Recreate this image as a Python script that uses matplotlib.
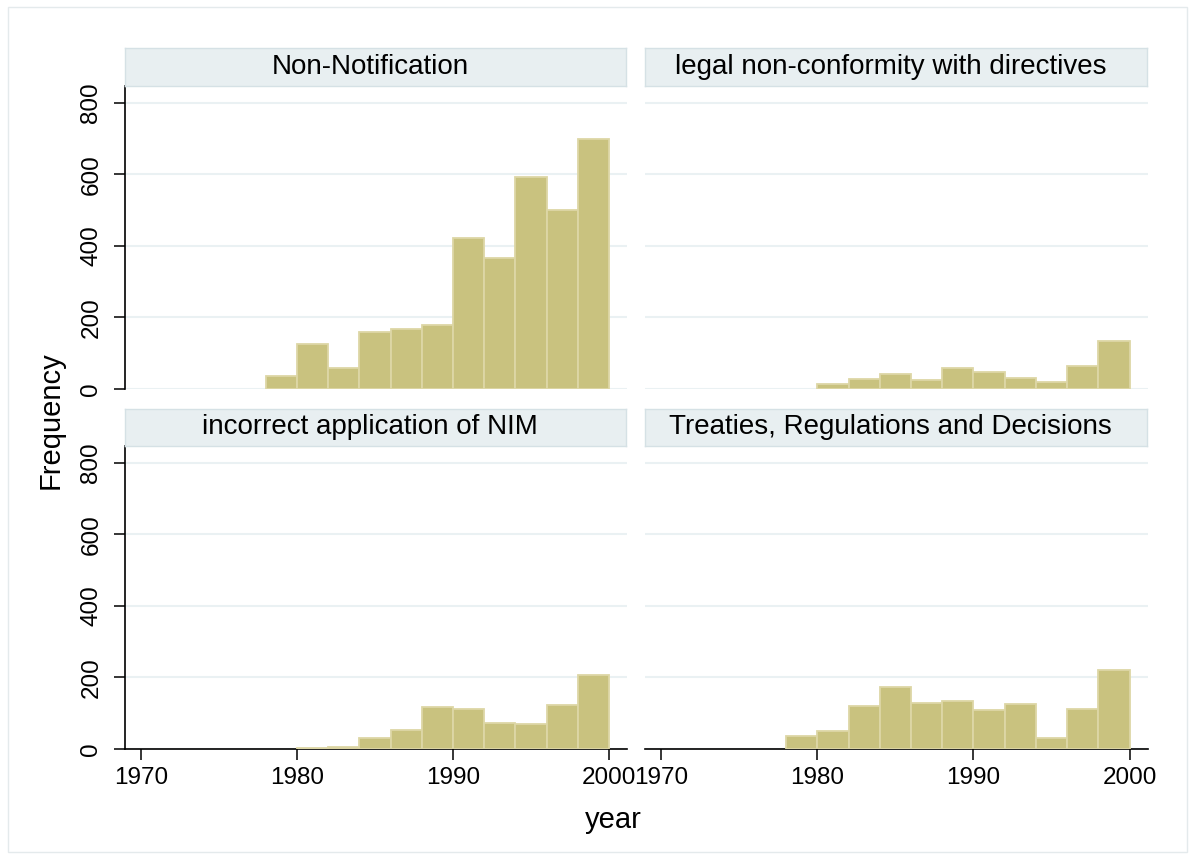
import matplotlib
matplotlib.use("Agg")
import matplotlib.pyplot as plt
from matplotlib.patches import Rectangle

plt.rcParams['font.family'] = ['Liberation Sans', 'DejaVu Sans']

panel_titles = ["Non-Notification", "legal non-conformity with directives",
                "incorrect application of NIM", "Treaties, Regulations and Decisions"]

bins_nn = [1978, 1980, 1982, 1984, 1986, 1988, 1990, 1992, 1994, 1996, 1998]
freq_nn = [36, 126, 59, 159, 169, 178, 422, 366, 592, 499, 698]

bins_legal = [1980, 1982, 1984, 1986, 1988, 1990, 1992, 1994, 1996, 1998]
freq_legal = [13, 27, 42, 25, 60, 48, 32, 20, 64, 135]

bins_nim = [1980, 1982, 1984, 1986, 1988, 1990, 1992, 1994, 1996, 1998]
freq_nim = [2, 6, 32, 54, 118, 111, 72, 69, 123, 206]

bins_trd = [1978, 1980, 1982, 1984, 1986, 1988, 1990, 1992, 1994, 1996, 1998]
freq_trd = [36, 50, 119, 174, 128, 133, 109, 126, 32, 111, 222]

bin_width = 2
yticks = [0, 200, 400, 600, 800]
xticks = [1970, 1980, 1990, 2000]
xlabel = "year"
ylabel = "Frequency"

W, H = 1192, 859
fig = plt.figure(figsize=(W / 100, H / 100), dpi=100)
fig.patch.set_facecolor('white')

# outer frame
fig.patches.append(Rectangle((8 / W, 1 - 852 / H), (1187 - 8) / W, (852 - 7) / H,
                             transform=fig.transFigure, facecolor='none',
                             edgecolor='#E4EAEC', linewidth=1.0, zorder=0))

bar_fc = '#C9C27F'
bar_ec = '#DDD7A6'
grid_c = '#EAF1F3'
strip_fc = '#E8EFF1'
strip_ec = '#D5E1E5'

panels = [
    (bins_nn, freq_nn, 124.5, 86, 389),
    (bins_legal, freq_legal, 645.0, 86, 389),
    (bins_nim, freq_nim, 124.5, 446, 749),
    (bins_trd, freq_trd, 645.0, 446, 749),
]
strip_y = [(48.3, 85.7), (48.3, 85.7), (409.3, 445.7), (409.3, 445.7)]
pw = 502.5

for i, (bins, freq, x0, ytop, ybot) in enumerate(panels):
    ax = fig.add_axes([x0 / W, 1 - ybot / H, pw / W, (ybot - ytop) / H])
    ax.set_facecolor('white')
    ax.bar(bins, freq, width=bin_width, align='edge', color=bar_fc,
           edgecolor=bar_ec, linewidth=1.3, zorder=3)
    ax.set_xlim(1968.95, 2001.15)
    ax.set_ylim(0, 847)
    ax.set_yticks(yticks)
    ax.set_xticks(xticks)
    ax.grid(axis='y', color=grid_c, linewidth=1.5, zorder=0)
    ax.grid(axis='x', visible=False)
    for s in ['top', 'right']:
        ax.spines[s].set_visible(False)
    left_col = (i % 2 == 0)
    bottom_row = (i >= 2)
    if left_col:
        ax.spines['left'].set_color('black')
        ax.spines['left'].set_linewidth(1.2)
        ax.tick_params(axis='y', length=8, width=1.1, pad=8, labelsize=17.5,
                       labelrotation=90)
        for lab in ax.get_yticklabels():
            lab.set_verticalalignment('center')
    else:
        ax.spines['left'].set_visible(False)
        ax.tick_params(axis='y', length=0, labelleft=False)
    if bottom_row:
        ax.spines['bottom'].set_color('black')
        ax.spines['bottom'].set_linewidth(1.2)
        ax.tick_params(axis='x', length=8, width=1.1, pad=5, labelsize=17.5)
    else:
        ax.spines['bottom'].set_visible(False)
        ax.tick_params(axis='x', length=0, labelbottom=False)
    # strip
    sy0, sy1 = strip_y[i]
    sax = fig.add_axes([x0 / W, 1 - sy1 / H, (pw - 1) / W, (sy1 - sy0) / H])
    sax.set_facecolor(strip_fc)
    for s in sax.spines.values():
        s.set_color(strip_ec)
        s.set_linewidth(1.0)
    sax.set_xticks([])
    sax.set_yticks([])
    sax.text(0.49, 0.5, panel_titles[i], ha='center', va='center',
             fontsize=20, transform=sax.transAxes)

fig.text(51 / W, 1 - 420 / H, ylabel, rotation=90, ha='center', va='center',
         fontsize=21)
fig.text(613 / W, 1 - 820 / H, xlabel, ha='center', va='center', fontsize=21)

fig.savefig('out.png', dpi=100, facecolor=fig.get_facecolor())
